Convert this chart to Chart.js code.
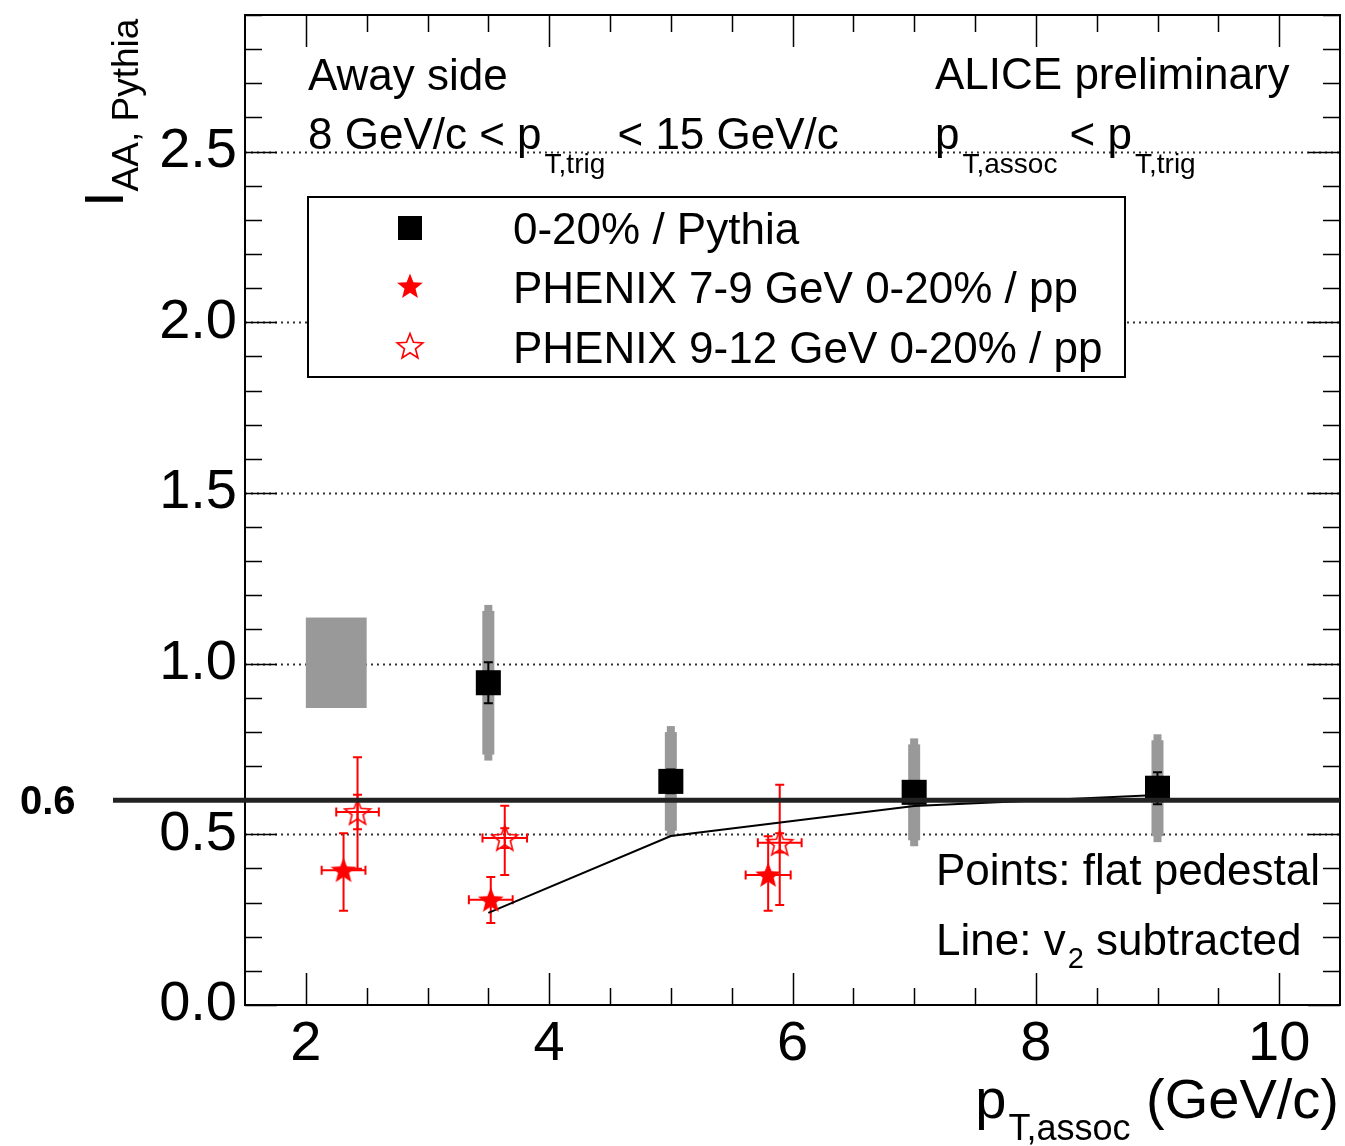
<!DOCTYPE html>
<html>
<head>
<meta charset="utf-8">
<script src="https://cdn.jsdelivr.net/npm/chart.js@4.4.1/dist/chart.umd.min.js"></script>
<style>
  html, body { margin: 0; padding: 0; background: #fff; }
  #wrap { width: 1345px; height: 1146px; }
</style>
</head>
<body>
<div id="wrap"><canvas id="iaa" width="1345" height="1146"></canvas></div>
<script>
// ALICE 0-20% / Pythia (away side)
var ptAlice   = [3.5, 5, 7, 9];
var iaaAlice  = [0.944, 0.655, 0.623, 0.635];
var statAlice = [0.06, 0.035, 0.03, 0.047];
var sysAlice  = [0.228, 0.162, 0.158, 0.158];

// v2 subtracted
var ptV2  = [3.5, 5, 7, 9];
var iaaV2 = [0.27, 0.495, 0.583, 0.615];

// normalisation uncertainty box
var normPt  = [2.0, 2.5];
var normIaa = [0.87, 1.135];

// PHENIX 7-9 GeV 0-20% / pp
var ptPhx79    = [2.31, 3.52, 5.80];
var iaaPhx79   = [0.395, 0.308, 0.381];
var ptErrPhx79 = [0.18, 0.18, 0.185];
var loPhx79    = [0.276, 0.24, 0.276];
var hiPhx79    = [0.503, 0.375, 0.494];

// PHENIX 9-12 GeV 0-20% / pp
var ptPhx912     = [2.425, 3.635, 5.895];
var iaaPhx912    = [0.565, 0.489, 0.475];
var ptErrPhx912  = [0.175, 0.183, 0.18];
var loPhx912     = [0.399, 0.381, 0.293];
var hiPhx912     = [0.726, 0.584, 0.645];
var statLoPhx912 = [0.515, 0.46, 0.447];
var statHiPhx912 = [0.616, 0.518, 0.503];

var refLine = 0.6;
var xTicks = [2, 4, 6, 8, 10];
var yTicks = [0, 0.5, 1, 1.5, 2, 2.5];

var FONT = '"Liberation Sans", Arial, Helvetica, sans-serif';
var RED = '#ff0000';
var GREY = '#999999';

function fontOf(size, bold) {
    return (bold ? 'bold ' : '') + size + 'px ' + FONT;
}

function starPath(g, cx, cy, rOut, rIn) {
    g.beginPath();
    for (var i = 0; i < 10; i++) {
        var r = i % 2 ? rIn : rOut;
        var a = -Math.PI / 2 + i * Math.PI / 5;
        if (i == 0) g.moveTo(cx + r * Math.cos(a), cy + r * Math.sin(a));
        else g.lineTo(cx + r * Math.cos(a), cy + r * Math.sin(a));
    }
    g.closePath();
}

function makeStar(filled) {
    var c = document.createElement('canvas');
    c.width = 30; c.height = 30;
    var g = c.getContext('2d');
    starPath(g, 15, 16, 13.5, 5.8);
    if (filled) { g.fillStyle = RED; g.fill(); }
    else { g.strokeStyle = RED; g.lineWidth = 1.6; g.stroke(); }
    return c;
}

var starFilled = makeStar(true);
var starOpen = makeStar(false);

function pts(xs, ys) {
    return xs.map(function(x, i) { return {x: x, y: ys[i]}; });
}

// text in pieces, for sub-scripts
function drawRich(ctx, x, y, parts, align) {
    var total = 0;
    parts.forEach(function(p) {
        ctx.font = fontOf(p.size);
        p.w = ctx.measureText(p.t).width + (p.gap || 0);
        total += p.w;
    });
    var cx = align == 'right' ? x - total : x;
    parts.forEach(function(p) {
        ctx.font = fontOf(p.size);
        ctx.fillText(p.t, cx + (p.gap || 0), y + (p.dy || 0));
        cx += p.w;
    });
}

function vbar(ctx, x, y1, y2, cap) {
    ctx.beginPath();
    ctx.moveTo(x, y1); ctx.lineTo(x, y2);
    if (cap) {
        ctx.moveTo(x - cap, y1); ctx.lineTo(x + cap, y1);
        ctx.moveTo(x - cap, y2); ctx.lineTo(x + cap, y2);
    }
    ctx.stroke();
}

function hbar(ctx, y, x1, x2, cap) {
    ctx.beginPath();
    ctx.moveTo(x1, y); ctx.lineTo(x2, y);
    ctx.moveTo(x1, y - cap); ctx.lineTo(x1, y + cap);
    ctx.moveTo(x2, y - cap); ctx.lineTo(x2, y + cap);
    ctx.stroke();
}

var rootStyle = {
    id: 'rootStyle',
    beforeDatasetsDraw: function(chart) {
        var ctx = chart.ctx, xs = chart.scales.x, ys = chart.scales.y, a = chart.chartArea;
        ctx.save();

        // dotted grid
        ctx.strokeStyle = '#333';
        ctx.lineWidth = 2;
        ctx.setLineDash([2, 4]);
        yTicks.forEach(function(v) {
            if (v == 0) return;
            var y = Math.round(ys.getPixelForValue(v)) + 0.5;
            ctx.beginPath(); ctx.moveTo(a.left, y); ctx.lineTo(a.right, y); ctx.stroke();
        });
        ctx.setLineDash([]);

        // normalisation box
        ctx.fillStyle = GREY;
        var bx1 = xs.getPixelForValue(normPt[0]), bx2 = xs.getPixelForValue(normPt[1]);
        var by1 = ys.getPixelForValue(normIaa[1]), by2 = ys.getPixelForValue(normIaa[0]);
        ctx.fillRect(bx1, by1, bx2 - bx1, by2 - by1);

        // systematic bands
        for (var i = 0; i < ptAlice.length; i++) {
            var x = xs.getPixelForValue(ptAlice[i]);
            var top = ys.getPixelForValue(iaaAlice[i] + sysAlice[i]);
            var bot = ys.getPixelForValue(iaaAlice[i] - sysAlice[i]);
            ctx.fillRect(x - 6, top + 6, 12, bot - top - 12);
            ctx.fillRect(x - 4, top, 8, bot - top);
        }

        // stat errors
        ctx.strokeStyle = '#000';
        ctx.lineWidth = 2;
        for (i = 0; i < ptAlice.length; i++) {
            x = xs.getPixelForValue(ptAlice[i]);
            vbar(ctx, x, ys.getPixelForValue(iaaAlice[i] + statAlice[i]),
                 ys.getPixelForValue(iaaAlice[i] - statAlice[i]), 4.5);
        }

        // PHENIX error bars
        ctx.strokeStyle = RED;
        ctx.lineWidth = 2;
        for (i = 0; i < ptPhx79.length; i++) {
            x = xs.getPixelForValue(ptPhx79[i]);
            vbar(ctx, x, ys.getPixelForValue(hiPhx79[i]), ys.getPixelForValue(loPhx79[i]), 4.5);
            hbar(ctx, ys.getPixelForValue(iaaPhx79[i]),
                 xs.getPixelForValue(ptPhx79[i] - ptErrPhx79[i]),
                 xs.getPixelForValue(ptPhx79[i] + ptErrPhx79[i]), 4.5);
        }
        for (i = 0; i < ptPhx912.length; i++) {
            x = xs.getPixelForValue(ptPhx912[i]);
            vbar(ctx, x, ys.getPixelForValue(hiPhx912[i]), ys.getPixelForValue(loPhx912[i]), 4.5);
            vbar(ctx, x, ys.getPixelForValue(statHiPhx912[i]), ys.getPixelForValue(statLoPhx912[i]), 4.5);
            hbar(ctx, ys.getPixelForValue(iaaPhx912[i]),
                 xs.getPixelForValue(ptPhx912[i] - ptErrPhx912[i]),
                 xs.getPixelForValue(ptPhx912[i] + ptErrPhx912[i]), 4.5);
        }
        ctx.restore();
    },

    afterDatasetsDraw: function(chart) {
        var ctx = chart.ctx, xs = chart.scales.x, ys = chart.scales.y, a = chart.chartArea;
        ctx.save();

        // frame
        ctx.strokeStyle = '#000';
        ctx.lineWidth = 2;
        ctx.strokeRect(a.left, a.top, a.right - a.left, a.bottom - a.top);

        // ticks inside the frame
        ctx.lineWidth = 1.5;
        ctx.beginPath();
        for (var k = 0; k <= 29; k++) {
            var v = k / 10;
            var y = Math.round(ys.getPixelForValue(v)) + 0.5;
            var len = (k % 5 == 0) ? 32 : 17;
            ctx.moveTo(a.left, y); ctx.lineTo(a.left + len, y);
            ctx.moveTo(a.right, y); ctx.lineTo(a.right - len, y);
        }
        for (k = 4; k <= 20; k++) {
            v = k / 2;
            var x = Math.round(xs.getPixelForValue(v)) + 0.5;
            len = (k % 4 == 0) ? 32 : 17;
            ctx.moveTo(x, a.bottom); ctx.lineTo(x, a.bottom - len);
            ctx.moveTo(x, a.top); ctx.lineTo(x, a.top + len);
        }
        ctx.stroke();

        // legend box
        ctx.fillStyle = '#fff';
        ctx.fillRect(308, 197, 817, 180);
        ctx.lineWidth = 2;
        ctx.strokeRect(308, 197, 817, 180);
        ctx.fillStyle = '#000';
        ctx.fillRect(398, 216, 24, 24);
        ctx.drawImage(starFilled, 395, 271);
        ctx.drawImage(starOpen, 395, 331);
        ctx.textAlign = 'left';
        ctx.textBaseline = 'alphabetic';
        var labels = ['0-20% / Pythia', 'PHENIX 7-9 GeV 0-20% / pp', 'PHENIX 9-12 GeV 0-20% / pp'];
        var rows = [228, 287, 347];
        ctx.font = fontOf(44);
        labels.forEach(function(t, i) { ctx.fillText(t, 513, rows[i] + 0.358 * 44); });

        // labels in the plot
        drawRich(ctx, 308, 90, [{t: 'Away side', size: 44}]);
        drawRich(ctx, 308, 149, [{t: '8 GeV/c < p', size: 44}, {t: 'T,trig', size: 28, dy: 24, gap: 3},
                                 {t: ' < 15 GeV/c', size: 44}]);
        drawRich(ctx, 935, 89, [{t: 'ALICE preliminary', size: 44}]);
        drawRich(ctx, 935, 149, [{t: 'p', size: 44}, {t: 'T,assoc', size: 28, dy: 24, gap: 3},
                                 {t: ' < p', size: 44}, {t: 'T,trig', size: 28, dy: 24, gap: 3}]);
        drawRich(ctx, 936, 885, [{t: 'Points: flat pedestal', size: 44}]);
        drawRich(ctx, 936, 955, [{t: 'Line: v', size: 44}, {t: '2', size: 29, dy: 13, gap: 2},
                                 {t: ' subtracted', size: 44}]);

        // axis titles
        drawRich(ctx, 1339, 1118, [{t: 'p', size: 56}, {t: 'T,assoc', size: 36, dy: 22, gap: 2},
                                   {t: ' (GeV/c)', size: 56}], 'right');
        ctx.save();
        ctx.translate(123, 207);
        ctx.rotate(-Math.PI / 2);
        drawRich(ctx, 0, 0, [{t: 'I', size: 56}, {t: 'AA, Pythia', size: 37, dy: 15}]);
        ctx.restore();

        // reference line at 0.6
        var yr = ys.getPixelForValue(refLine);
        ctx.strokeStyle = '#222';
        ctx.lineWidth = 5;
        ctx.beginPath(); ctx.moveTo(113, yr); ctx.lineTo(a.right, yr); ctx.stroke();
        ctx.fillStyle = '#000';
        ctx.font = fontOf(40, true);
        ctx.fillText(refLine.toFixed(1), 20, yr + 0.358 * 40);

        ctx.restore();
    }
};

var tickFont = {family: FONT, size: 56};

var chart = new Chart(document.getElementById('iaa'), {
    type: 'scatter',
    data: {
        datasets: [
            {
                label: '0-20% / Pythia',
                data: pts(ptAlice, iaaAlice),
                pointStyle: 'rect',
                pointRadius: 17.7,
                backgroundColor: '#000',
                borderColor: '#000',
                borderWidth: 0
            },
            {
                label: 'PHENIX 7-9 GeV 0-20% / pp',
                data: pts(ptPhx79, iaaPhx79),
                pointStyle: starFilled,
                pointRadius: 10
            },
            {
                label: 'PHENIX 9-12 GeV 0-20% / pp',
                data: pts(ptPhx912, iaaPhx912),
                pointStyle: starOpen,
                pointRadius: 10
            },
            {
                label: 'v2 subtracted',
                data: pts(ptV2, iaaV2),
                showLine: true,
                borderColor: '#000',
                borderWidth: 2,
                pointRadius: 0
            }
        ]
    },
    options: {
        responsive: false,
        devicePixelRatio: 1,
        animation: false,
        layout: {autoPadding: false, padding: {left: 0, right: 5, top: 15, bottom: 0}},
        plugins: {legend: {display: false}, tooltip: {enabled: false}},
        scales: {
            x: {
                type: 'linear', min: 1.5, max: 10.5,
                grid: {display: false, drawTicks: false}, border: {display: false},
                afterBuildTicks: function(s) { s.ticks = xTicks.map(function(v) { return {value: v}; }); },
                afterFit: function(s) { s.height = 141; s.paddingLeft = 0; s.paddingRight = 0; },
                ticks: {font: tickFont, color: '#000', padding: 6, maxRotation: 0, autoSkip: false,
                        callback: function(v) { return String(v); }}
            },
            y: {
                type: 'linear', min: 0, max: 2.9,
                grid: {display: false, drawTicks: false}, border: {display: false},
                afterBuildTicks: function(s) { s.ticks = yTicks.map(function(v) { return {value: v}; }); },
                afterFit: function(s) { s.width = 245; s.paddingTop = 0; s.paddingBottom = 0; },
                ticks: {font: tickFont, color: '#000', padding: 8, autoSkip: false,
                        callback: function(v) { return v.toFixed(1); }}
            }
        }
    },
    plugins: [rootStyle]
});
</script>
</body>
</html>
